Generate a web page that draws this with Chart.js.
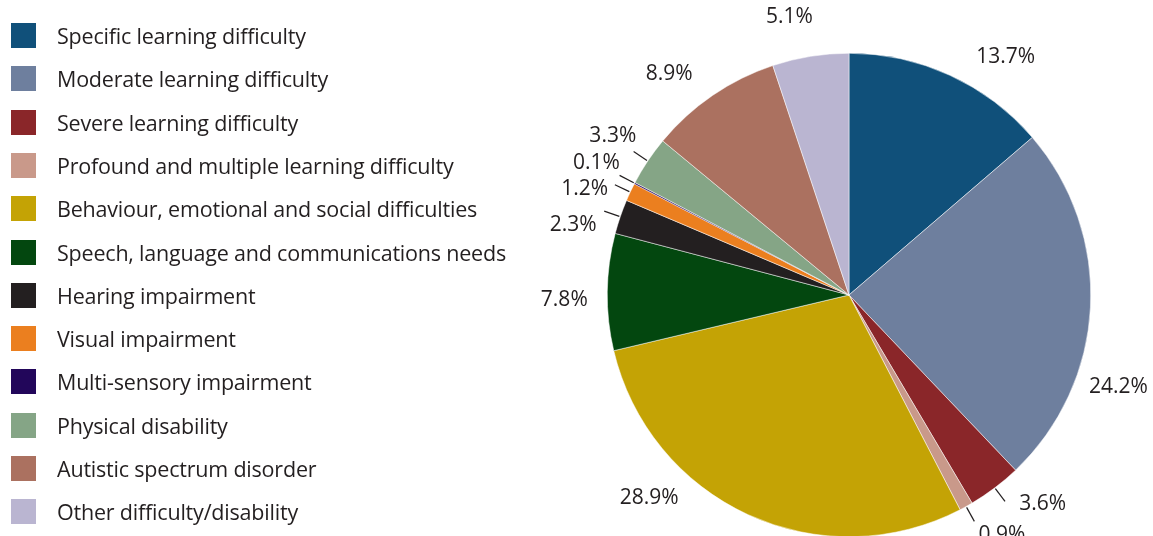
<!DOCTYPE html>
<html>
<head>
<meta charset="utf-8">
<script src="https://cdn.jsdelivr.net/npm/chart.js@4.4.1/dist/chart.umd.min.js"></script>
<style>
  html, body { margin: 0; padding: 0; background: #fff; }
  #wrap { position: relative; width: 1153px; height: 536px; overflow: hidden; }
  #pie { position: absolute; left: 0; top: 0; }
  #legend { position: absolute; left: 11px; top: 23px; }
  .row { position: absolute; left: 0; height: 25px; display: flex; align-items: center; white-space: nowrap; }
  .sw { width: 25px; height: 25px; flex: none; }
  .txt { margin-left: 21px; font-family: "Open Sans", sans-serif; font-size: 21.5px; letter-spacing: -0.2px; color: #231f20; }
</style>
</head>
<body>
<div id="wrap">
  <canvas id="pie" width="1153" height="600"></canvas>
  <div id="legend"></div>
</div>
<script>
// pupils by type of need, percent
const categories = [
  'Specific learning difficulty',
  'Moderate learning difficulty',
  'Severe learning difficulty',
  'Profound and multiple learning difficulty',
  'Behaviour, emotional and social difficulties',
  'Speech, language and communications needs',
  'Hearing impairment',
  'Visual impairment',
  'Multi-sensory impairment',
  'Physical disability',
  'Autistic spectrum disorder',
  'Other difficulty/disability'
];
const shares = [13.7, 24.2, 3.6, 0.9, 28.9, 7.8, 2.3, 1.2, 0.1, 3.3, 8.9, 5.1];
const colours = [
  '#10507a', '#6e7f9e', '#8a2629', '#c9998a', '#c4a305', '#03470f',
  '#231f20', '#eb7f1f', '#22065a', '#85a586', '#ab7160', '#bab5d1'
];

// label placement: angle shift (degrees) off the slice middle
const labelShift = [8.7, 16, -5.8, -3.5, 19.9, -1.7, -4.6, -3.4, 0, 0.3, -4.8, -2.9];
const LABEL_GAP = 43;      // text centre beyond the rim
const LEADER_MAX = 4;      // slices under this get a leader line
const INK = '#231f20';

// legend down the left side
const legendEl = document.getElementById('legend');
categories.forEach((name, i) => {
  const row = document.createElement('div');
  row.className = 'row';
  row.style.top = (i * 43.3) + 'px';
  row.innerHTML = `<div class="sw" style="background:${colours[i]}"></div><div class="txt">${name}</div>`;
  legendEl.appendChild(row);
});

const outsideLabels = {
  id: 'outsideLabels',
  afterDatasetsDraw(chart) {
    const ctx = chart.ctx;
    const arcs = chart.getDatasetMeta(0).data;
    ctx.save();
    ctx.font = '21px "Open Sans", sans-serif';
    ctx.fillStyle = INK;
    ctx.strokeStyle = INK;
    ctx.lineWidth = 1.2;
    ctx.textAlign = 'center';
    ctx.textBaseline = 'middle';
    arcs.forEach((arc, i) => {
      const { x, y, startAngle, endAngle, outerRadius } = arc.getProps(['x', 'y', 'startAngle', 'endAngle', 'outerRadius'], true);
      const mid = (startAngle + endAngle) / 2;
      if (shares[i] < LEADER_MAX) {
        ctx.beginPath();
        ctx.moveTo(x + Math.cos(mid) * (outerRadius + 1), y + Math.sin(mid) * (outerRadius + 1));
        ctx.lineTo(x + Math.cos(mid) * (outerRadius + 17), y + Math.sin(mid) * (outerRadius + 17));
        ctx.stroke();
      }
      const a = mid + labelShift[i] * Math.PI / 180;
      const d = outerRadius + LABEL_GAP;
      ctx.fillText(shares[i].toFixed(1) + '%', x + Math.cos(a) * d, y + Math.sin(a) * d);
    });
    ctx.restore();
  }
};

new Chart(document.getElementById('pie'), {
  type: 'pie',
  data: {
    labels: categories,
    datasets: [{
      data: shares,
      backgroundColor: colours,
      borderColor: '#ffffff',
      borderWidth: 0.5
    }]
  },
  options: {
    responsive: false,
    animation: false,
    devicePixelRatio: 1,
    layout: { padding: { left: 607, right: 62, top: 53, bottom: 63 } },
    plugins: {
      legend: { display: false },
      tooltip: { enabled: false }
    }
  },
  plugins: [outsideLabels]
});
</script>
</body>
</html>
